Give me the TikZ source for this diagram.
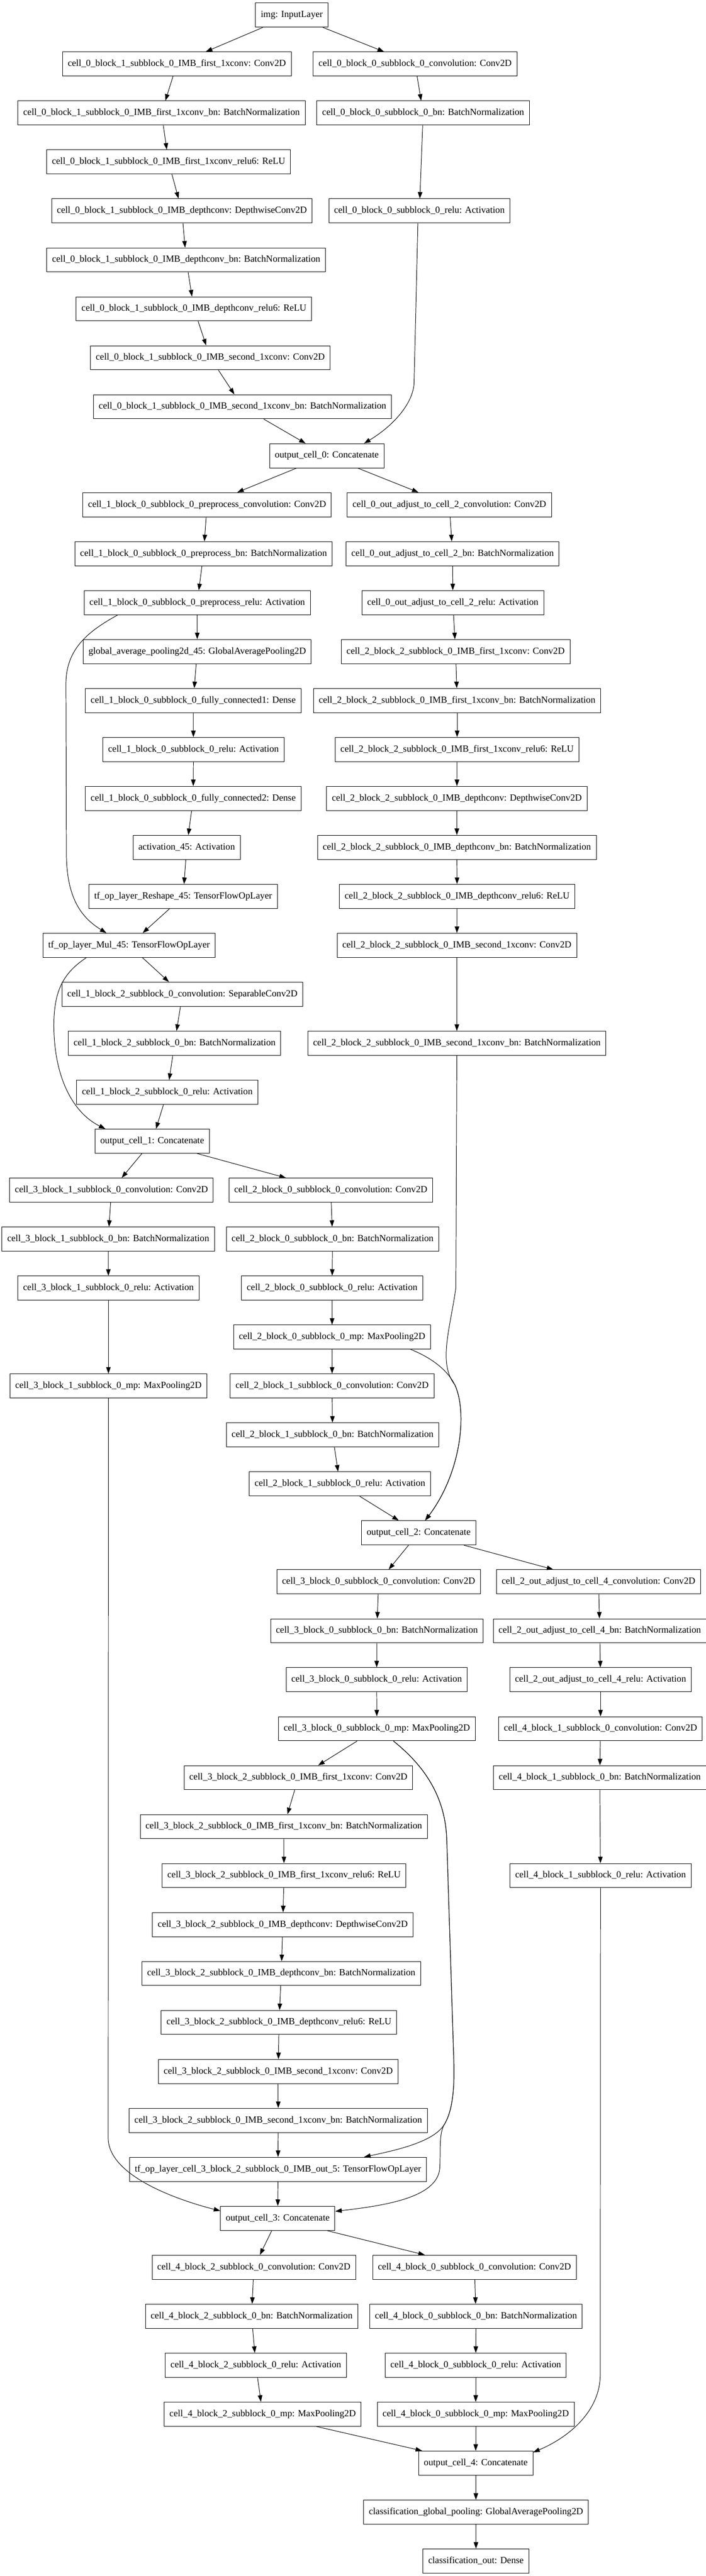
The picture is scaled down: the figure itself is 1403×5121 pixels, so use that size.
\documentclass[tikz,border=0pt]{standalone}
\usepackage{fontspec}
\setmainfont{Liberation Serif}
\usetikzlibrary{arrows.meta}

\begin{document}
\begin{tikzpicture}[
        x=1pt, y=1pt,
        layer/.style={rectangle, draw, line width=1pt, minimum height=48pt, inner xsep=10.5pt, inner ysep=0pt, text height=13pt, text depth=4pt, font=\fontsize{18.67}{22}\selectfont},
        arr/.style={line width=1pt, -{Triangle[length=13pt,width=9pt]}}
    ]
    \fill[white] (0,0) rectangle (1403,-5121);
    \useasboundingbox (0,0) rectangle (1403,-5121);

    % cell 0
    \node[layer] (img) at (580,-30) {img: InputLayer};
    \node[layer] (c0b1f) at (351.5,-127.3) {cell\_0\_block\_1\_subblock\_0\_IMB\_first\_1xconv: Conv2D};
    \node[layer] (c0b0c) at (825,-127.3) {cell\_0\_block\_0\_subblock\_0\_convolution: Conv2D};
    \node[layer] (c0b1fbn) at (321,-224.7) {cell\_0\_block\_1\_subblock\_0\_IMB\_first\_1xconv\_bn: BatchNormalization};
    \node[layer] (c0b0bn) at (841,-224.7) {cell\_0\_block\_0\_subblock\_0\_bn: BatchNormalization};
    \node[layer] (c0b1frelu) at (335,-322) {cell\_0\_block\_1\_subblock\_0\_IMB\_first\_1xconv\_relu6: ReLU};
    \node[layer] (c0b1d) at (361.5,-419.3) {cell\_0\_block\_1\_subblock\_0\_IMB\_depthconv: DepthwiseConv2D};
    \node[layer] (c0b0relu) at (833.5,-419.3) {cell\_0\_block\_0\_subblock\_0\_relu: Activation};
    \node[layer] (c0b1dbn) at (370,-516.7) {cell\_0\_block\_1\_subblock\_0\_IMB\_depthconv\_bn: BatchNormalization};
    \node[layer] (c0b1drelu) at (385.5,-614) {cell\_0\_block\_1\_subblock\_0\_IMB\_depthconv\_relu6: ReLU};
    \node[layer] (c0b1s) at (418,-711.3) {cell\_0\_block\_1\_subblock\_0\_IMB\_second\_1xconv: Conv2D};
    \node[layer] (c0b1sbn) at (482,-808.6) {cell\_0\_block\_1\_subblock\_0\_IMB\_second\_1xconv\_bn: BatchNormalization};
    \node[layer] (oc0) at (649.5,-906) {output\_cell\_0: Concatenate};

    % cell 1 and adjust to cell 2
    \node[layer] (c1pre) at (411.5,-1003.3) {cell\_1\_block\_0\_subblock\_0\_preprocess\_convolution: Conv2D};
    \node[layer] (adj2c) at (893,-1003.3) {cell\_0\_out\_adjust\_to\_cell\_2\_convolution: Conv2D};
    \node[layer] (c1prebn) at (404.5,-1100.6) {cell\_1\_block\_0\_subblock\_0\_preprocess\_bn: BatchNormalization};
    \node[layer] (adj2bn) at (899.5,-1100.6) {cell\_0\_out\_adjust\_to\_cell\_2\_bn: BatchNormalization};
    \node[layer] (c1prerelu) at (392,-1198) {cell\_1\_block\_0\_subblock\_0\_preprocess\_relu: Activation};
    \node[layer] (adj2relu) at (900,-1198) {cell\_0\_out\_adjust\_to\_cell\_2\_relu: Activation};
    \node[layer] (gap45) at (392,-1295.3) {global\_average\_pooling2d\_45: GlobalAveragePooling2D};
    \node[layer] (c2b2f) at (905.5,-1295.3) {cell\_2\_block\_2\_subblock\_0\_IMB\_first\_1xconv: Conv2D};
    \node[layer] (fc1) at (384,-1392.6) {cell\_1\_block\_0\_subblock\_0\_fully\_connected1: Dense};
    \node[layer] (c2b2fbn) at (908.5,-1392.6) {cell\_2\_block\_2\_subblock\_0\_IMB\_first\_1xconv\_bn: BatchNormalization};
    \node[layer] (c1relu) at (384.5,-1490) {cell\_1\_block\_0\_subblock\_0\_relu: Activation};
    \node[layer] (c2b2frelu) at (908.5,-1490) {cell\_2\_block\_2\_subblock\_0\_IMB\_first\_1xconv\_relu6: ReLU};
    \node[layer] (fc2) at (384,-1587.3) {cell\_1\_block\_0\_subblock\_0\_fully\_connected2: Dense};
    \node[layer] (c2b2d) at (908,-1587.3) {cell\_2\_block\_2\_subblock\_0\_IMB\_depthconv: DepthwiseConv2D};
    \node[layer] (act45) at (371,-1684.6) {activation\_45: Activation};
    \node[layer] (c2b2dbn) at (908,-1684.6) {cell\_2\_block\_2\_subblock\_0\_IMB\_depthconv\_bn: BatchNormalization};
    \node[layer] (reshape45) at (364,-1782) {tf\_op\_layer\_Reshape\_45: TensorFlowOpLayer};
    \node[layer] (c2b2drelu) at (908.5,-1782) {cell\_2\_block\_2\_subblock\_0\_IMB\_depthconv\_relu6: ReLU};
    \node[layer] (mul45) at (256.5,-1879.3) {tf\_op\_layer\_Mul\_45: TensorFlowOpLayer};
    \node[layer] (c2b2s) at (908,-1879.3) {cell\_2\_block\_2\_subblock\_0\_IMB\_second\_1xconv: Conv2D};
    \node[layer] (c1b2c) at (362.5,-1976.6) {cell\_1\_block\_2\_subblock\_0\_convolution: SeparableConv2D};
    \node[layer] (c1b2bn) at (347,-2074) {cell\_1\_block\_2\_subblock\_0\_bn: BatchNormalization};
    \node[layer] (c2b2sbn) at (908,-2074) {cell\_2\_block\_2\_subblock\_0\_IMB\_second\_1xconv\_bn: BatchNormalization};
    \node[layer] (c1b2relu) at (332.5,-2171.3) {cell\_1\_block\_2\_subblock\_0\_relu: Activation};
    \node[layer] (oc1) at (302.5,-2268.6) {output\_cell\_1: Concatenate};

    % cell 2 and cell 3 block 1
    \node[layer] (c3b1c) at (221.5,-2366) {cell\_3\_block\_1\_subblock\_0\_convolution: Conv2D};
    \node[layer] (c2b0c) at (657.5,-2366) {cell\_2\_block\_0\_subblock\_0\_convolution: Conv2D};
    \node[layer] (c3b1bn) at (215,-2463.3) {cell\_3\_block\_1\_subblock\_0\_bn: BatchNormalization};
    \node[layer] (c2b0bn) at (661,-2463.3) {cell\_2\_block\_0\_subblock\_0\_bn: BatchNormalization};
    \node[layer] (c3b1relu) at (215.5,-2560.6) {cell\_3\_block\_1\_subblock\_0\_relu: Activation};
    \node[layer] (c2b0relu) at (660,-2560.6) {cell\_2\_block\_0\_subblock\_0\_relu: Activation};
    \node[layer] (c2b0mp) at (660,-2658) {cell\_2\_block\_0\_subblock\_0\_mp: MaxPooling2D};
    \node[layer] (c3b1mp) at (215.5,-2755.2) {cell\_3\_block\_1\_subblock\_0\_mp: MaxPooling2D};
    \node[layer] (c2b1c) at (660,-2755.2) {cell\_2\_block\_1\_subblock\_0\_convolution: Conv2D};
    \node[layer] (c2b1bn) at (661,-2852.6) {cell\_2\_block\_1\_subblock\_0\_bn: BatchNormalization};
    \node[layer] (c2b1relu) at (675.5,-2950) {cell\_2\_block\_1\_subblock\_0\_relu: Activation};
    \node[layer] (oc2) at (832,-3047.2) {output\_cell\_2: Concatenate};

    % cell 3 and adjust to cell 4
    \node[layer] (c3b0c) at (752.5,-3144.6) {cell\_3\_block\_0\_subblock\_0\_convolution: Conv2D};
    \node[layer] (adj4c) at (1189.5,-3144.6) {cell\_2\_out\_adjust\_to\_cell\_4\_convolution: Conv2D};
    \node[layer] (c3b0bn) at (749,-3242) {cell\_3\_block\_0\_subblock\_0\_bn: BatchNormalization};
    \node[layer] (adj4bn) at (1192,-3242) {cell\_2\_out\_adjust\_to\_cell\_4\_bn: BatchNormalization};
    \node[layer] (c3b0relu) at (748.5,-3339.2) {cell\_3\_block\_0\_subblock\_0\_relu: Activation};
    \node[layer] (adj4relu) at (1193.5,-3339.2) {cell\_2\_out\_adjust\_to\_cell\_4\_relu: Activation};
    \node[layer] (c3b0mp) at (749,-3436.6) {cell\_3\_block\_0\_subblock\_0\_mp: MaxPooling2D};
    \node[layer] (c4b1c) at (1193.5,-3436.6) {cell\_4\_block\_1\_subblock\_0\_convolution: Conv2D};
    \node[layer] (c3b2f) at (593,-3534) {cell\_3\_block\_2\_subblock\_0\_IMB\_first\_1xconv: Conv2D};
    \node[layer] (c4b1bn) at (1192,-3534) {cell\_4\_block\_1\_subblock\_0\_bn: BatchNormalization};
    \node[layer] (c3b2fbn) at (564,-3631.2) {cell\_3\_block\_2\_subblock\_0\_IMB\_first\_1xconv\_bn: BatchNormalization};
    \node[layer] (c3b2frelu) at (564.5,-3728.5) {cell\_3\_block\_2\_subblock\_0\_IMB\_first\_1xconv\_relu6: ReLU};
    \node[layer] (c4b1relu) at (1193.5,-3728.5) {cell\_4\_block\_1\_subblock\_0\_relu: Activation};
    \node[layer] (c3b2d) at (562,-3826) {cell\_3\_block\_2\_subblock\_0\_IMB\_depthconv: DepthwiseConv2D};
    \node[layer] (c3b2dbn) at (559,-3923.2) {cell\_3\_block\_2\_subblock\_0\_IMB\_depthconv\_bn: BatchNormalization};
    \node[layer] (c3b2drelu) at (554.5,-4020.5) {cell\_3\_block\_2\_subblock\_0\_IMB\_depthconv\_relu6: ReLU};
    \node[layer] (c3b2s) at (553,-4118) {cell\_3\_block\_2\_subblock\_0\_IMB\_second\_1xconv: Conv2D};
    \node[layer] (c3b2sbn) at (553,-4215.2) {cell\_3\_block\_2\_subblock\_0\_IMB\_second\_1xconv\_bn: BatchNormalization};
    \node[layer] (out5) at (552.5,-4312.5) {tf\_op\_layer\_cell\_3\_block\_2\_subblock\_0\_IMB\_out\_5: TensorFlowOpLayer};
    \node[layer] (oc3) at (552,-4410) {output\_cell\_3: Concatenate};

    % cell 4 and classification
    \node[layer] (c4b2c) at (504.5,-4507.2) {cell\_4\_block\_2\_subblock\_0\_convolution: Conv2D};
    \node[layer] (c4b0c) at (943,-4507.2) {cell\_4\_block\_0\_subblock\_0\_convolution: Conv2D};
    \node[layer] (c4b2bn) at (500,-4604.5) {cell\_4\_block\_2\_subblock\_0\_bn: BatchNormalization};
    \node[layer] (c4b0bn) at (946,-4604.5) {cell\_4\_block\_0\_subblock\_0\_bn: BatchNormalization};
    \node[layer] (c4b2relu) at (508.5,-4702) {cell\_4\_block\_2\_subblock\_0\_relu: Activation};
    \node[layer] (c4b0relu) at (945.5,-4702) {cell\_4\_block\_0\_subblock\_0\_relu: Activation};
    \node[layer] (c4b2mp) at (522,-4799.2) {cell\_4\_block\_2\_subblock\_0\_mp: MaxPooling2D};
    \node[layer] (c4b0mp) at (945.5,-4799.2) {cell\_4\_block\_0\_subblock\_0\_mp: MaxPooling2D};
    \node[layer] (oc4) at (945.5,-4896.5) {output\_cell\_4: Concatenate};
    \node[layer] (clspool) at (946,-4994) {classification\_global\_pooling: GlobalAveragePooling2D};
    \node[layer] (clsout) at (946,-5091.2) {classification\_out: Dense};

    % straight connections
    \foreach \a/\b in {img/c0b1f, img/c0b0c,
        c0b1f/c0b1fbn, c0b1fbn/c0b1frelu, c0b1frelu/c0b1d, c0b1d/c0b1dbn, c0b1dbn/c0b1drelu, c0b1drelu/c0b1s, c0b1s/c0b1sbn, c0b1sbn/oc0,
        c0b0c/c0b0bn, c0b0bn/c0b0relu,
        oc0/c1pre, oc0/adj2c,
        c1pre/c1prebn, c1prebn/c1prerelu, c1prerelu/gap45, gap45/fc1, fc1/c1relu, c1relu/fc2, fc2/act45, act45/reshape45, reshape45/mul45,
        mul45/c1b2c, c1b2c/c1b2bn, c1b2bn/c1b2relu, c1b2relu/oc1,
        adj2c/adj2bn, adj2bn/adj2relu, adj2relu/c2b2f, c2b2f/c2b2fbn, c2b2fbn/c2b2frelu, c2b2frelu/c2b2d, c2b2d/c2b2dbn, c2b2dbn/c2b2drelu, c2b2drelu/c2b2s, c2b2s/c2b2sbn,
        oc1/c3b1c, oc1/c2b0c,
        c3b1c/c3b1bn, c3b1bn/c3b1relu, c3b1relu/c3b1mp,
        c2b0c/c2b0bn, c2b0bn/c2b0relu, c2b0relu/c2b0mp, c2b0mp/c2b1c, c2b1c/c2b1bn, c2b1bn/c2b1relu, c2b1relu/oc2,
        oc2/c3b0c, oc2/adj4c,
        c3b0c/c3b0bn, c3b0bn/c3b0relu, c3b0relu/c3b0mp, c3b0mp/c3b2f,
        c3b2f/c3b2fbn, c3b2fbn/c3b2frelu, c3b2frelu/c3b2d, c3b2d/c3b2dbn, c3b2dbn/c3b2drelu, c3b2drelu/c3b2s, c3b2s/c3b2sbn, c3b2sbn/out5, out5/oc3,
        adj4c/adj4bn, adj4bn/adj4relu, adj4relu/c4b1c, c4b1c/c4b1bn, c4b1bn/c4b1relu,
        oc3/c4b2c, oc3/c4b0c,
        c4b2c/c4b2bn, c4b2bn/c4b2relu, c4b2relu/c4b2mp, c4b2mp/oc4,
        c4b0c/c4b0bn, c4b0bn/c4b0relu, c4b0relu/c4b0mp, c4b0mp/oc4,
        oc4/clspool, clspool/clsout}
        \draw[arr] (\a) -- (\b);

    % long skip connections
    \draw[arr] ([xshift=-3pt]c0b0relu.south) -- (823,-760) .. controls (822,-800) and (784,-845) .. ([xshift=74pt]oc0.north);
    \draw[arr] ([xshift=-158pt]c1prerelu.south) .. controls (175,-1255) and (131,-1290) .. (131,-1360) -- (132,-1700) .. controls (133,-1790) and (165,-1826) .. ([xshift=-45pt]mul45.north);
    \draw[arr] ([xshift=-85pt]mul45.south) .. controls (125,-1935) and (107,-1970) .. (107,-2040) .. controls (108,-2150) and (150,-2215) .. ([xshift=-93pt]oc1.north);
    \draw[arr] (c2b2sbn) -- (906,-2560) .. controls (895,-2640) and (870,-2710) .. (904,-2753) .. controls (930,-2810) and (915,-2930) .. ([xshift=13pt]oc2.north);
    \draw[arr] ([xshift=156pt]c2b0mp.south) .. controls (860,-2700) and (890,-2725) .. (904,-2753) .. controls (930,-2810) and (915,-2930) .. ([xshift=13pt]oc2.north);
    \draw[arr] (c3b1mp) -- (215,-4250) .. controls (215,-4330) and (370,-4378) .. ([yshift=15pt]oc3.west);
    \draw[arr] ([xshift=33pt]c3b0mp.south) .. controls (830,-3500) and (886,-3560) .. (888,-3660) -- (902,-4100) .. controls (904,-4170) and (895,-4205) .. (882,-4225) .. controls (860,-4258) and (790,-4274) .. ([xshift=171pt]out5.north);
    \draw[arr] ([xshift=33pt]c3b0mp.south) .. controls (830,-3500) and (886,-3560) .. (888,-3660) -- (902,-4100) .. controls (904,-4170) and (895,-4205) .. (882,-4225) .. controls (872,-4245) and (876,-4280) .. (874,-4310) .. controls (870,-4370) and (760,-4385) .. ([yshift=14pt]oc3.east);
    \draw[arr] (c4b1relu) -- (1193,-4720) .. controls (1193,-4800) and (1120,-4850) .. ([yshift=-3pt]oc4.north east);
\end{tikzpicture}
\end{document}
